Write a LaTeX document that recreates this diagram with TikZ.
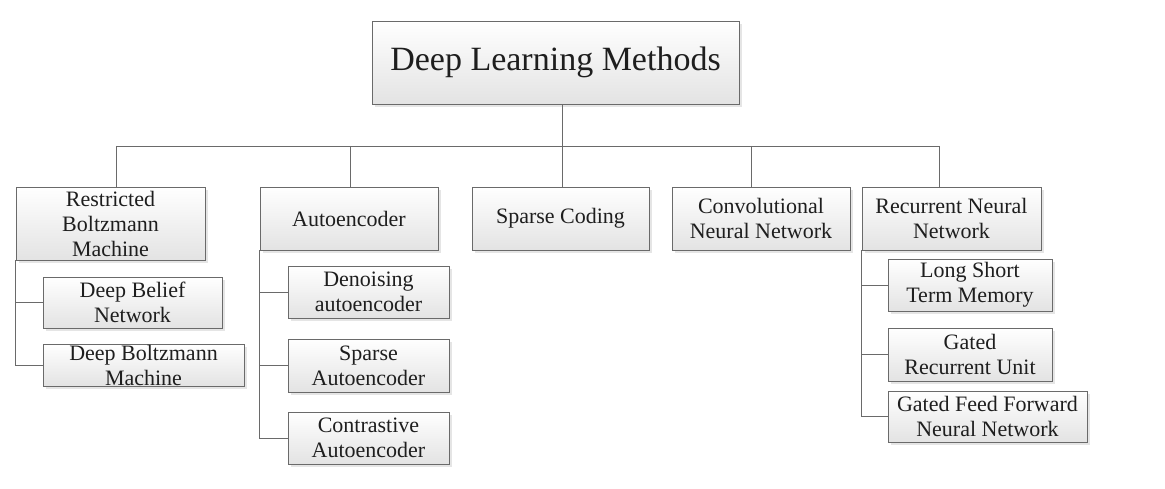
\documentclass[tikz,border=0pt]{standalone}
\usepackage{fontspec}
\setmainfont{Liberation Serif}
\usetikzlibrary{shadows}
\definecolor{edgegray}{HTML}{6A6A6A}
\definecolor{txt}{HTML}{1E1E1E}
\tikzset{
  box/.style={draw=edgegray, line width=0.9pt, top color=white, bottom color=black!11,
    inner sep=0pt, align=center, text=txt,
    font=\fontsize{22}{25}\selectfont,
    drop shadow={shadow xshift=3pt, shadow yshift=-3pt, opacity=1, fill=black!10}},
  link/.style={draw=edgegray, line width=0.9pt}
}
\begin{document}
\begin{tikzpicture}[x=1pt,y=-1pt]
\useasboundingbox (0,0) rectangle (1165,489);
% top
\node[box, minimum width=367pt, minimum height=83pt, font=\fontsize{34}{38}\selectfont] (top) at (555.5,62.5) {Deep Learning Methods};
% level 1
\node[box, minimum width=189pt, minimum height=73pt] (rbm) at (110.5,223.5) {Restricted\\Boltzmann\\Machine};
\node[box, minimum width=178pt, minimum height=63pt] (ae) at (349,218.5) {Autoencoder};
\node[box, minimum width=177pt, minimum height=63pt] (sc) at (560.5,218.5) {Sparse Coding};
\node[box, minimum width=178pt, minimum height=63pt] (cnn) at (761,218.5) {Convolutional\\Neural Network};
\node[box, minimum width=179pt, minimum height=63pt] (rnn) at (951.5,218.5) {Recurrent Neural\\Network};
% level 2
\node[box, minimum width=179pt, minimum height=51pt] (dbn) at (132.5,302.5) {Deep Belief\\Network};
\node[box, minimum width=201pt, minimum height=42pt] (dbm) at (143.5,365) {Deep Boltzmann\\Machine};
\node[box, minimum width=161pt, minimum height=52pt] (dae) at (368.5,292) {Denoising\\autoencoder};
\node[box, minimum width=161pt, minimum height=53pt] (sae) at (368.5,365.5) {Sparse\\Autoencoder};
\node[box, minimum width=161pt, minimum height=52pt] (cae) at (368.5,438) {Contrastive\\Autoencoder};
\node[box, minimum width=164pt, minimum height=52pt] (lstm) at (970,285) {Long Short\\Term Memory};
\node[box, minimum width=164pt, minimum height=53pt] (gru) at (970,354.5) {Gated\\Recurrent Unit};
\node[box, minimum width=199pt, minimum height=51pt] (gffnn) at (987.5,416.5) {Gated Feed Forward\\Neural Network};
% bus
\coordinate (bus) at (562,146);
\coordinate (busL) at (116,146);
\coordinate (busR) at (939,146);
\begin{scope}[on background layer/.try]
\draw[link] (top.south -| bus) -- (bus);
\draw[link] (busL) -- (busR);
\draw[link] (busL) -- (busL |- rbm.north);
\draw[link] ([xshift=1pt]ae.north |- bus) -- ([xshift=1pt]ae.north);
\draw[link] (bus) -- (bus |- sc.north);
\draw[link] ([xshift=-10pt]cnn.north |- bus) -- ([xshift=-10pt]cnn.north);
\draw[link] (busR) -- (busR |- rnn.north);
% spines
\draw[link] (rbm.south west) |- (dbn.west);
\draw[link] (rbm.south west) |- (dbm.west);
\draw[link] (ae.south west) |- (dae.west);
\draw[link] (ae.south west) |- (sae.west);
\draw[link] (ae.south west) |- (cae.west);
\draw[link] (rnn.south west) |- (lstm.west);
\draw[link] (rnn.south west) |- (gru.west);
\draw[link] (rnn.south west) |- (gffnn.west);
\end{scope}
\end{tikzpicture}
\end{document}
